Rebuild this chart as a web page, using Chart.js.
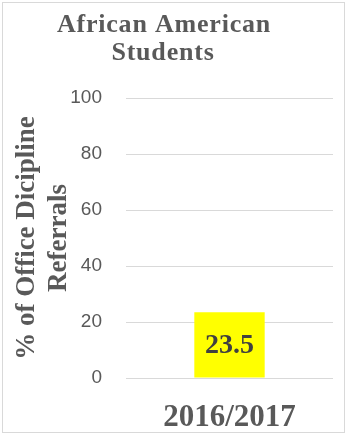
<!DOCTYPE html>
<html>
<head>
<meta charset="utf-8">
<script src="https://cdn.jsdelivr.net/npm/chart.js@4.4.1/dist/chart.umd.min.js"></script>
<style>
  html, body { margin: 0; padding: 0; background: #fff; }
  #wrap { position: relative; width: 347px; height: 435px; }
</style>
</head>
<body>
<div id="wrap"><canvas id="chart" width="347" height="435"></canvas></div>
<script>
// chart data
const categories = ['2016/2017'];
const referralPct = [23.5];
const titleLines = ['African American', 'Students'];
const yTitleLines = ['% of Office Dicipline', 'Referrals'];

const serif = "'Liberation Serif', 'Times New Roman', serif";
const grey = '#595959';

// border + title + value label
const decor = {
  id: 'decor',
  beforeDraw(chart) {
    const ctx = chart.ctx;
    ctx.save();
    ctx.strokeStyle = '#d9d9d9';
    ctx.lineWidth = 1;
    ctx.strokeRect(2.5, 2.5, 342, 430);
    ctx.restore();
  },
  afterDraw(chart) {
    const ctx = chart.ctx;
    ctx.save();
    ctx.fillStyle = grey;
    ctx.font = 'bold 26px ' + serif;
    ctx.textAlign = 'center';
    ctx.textBaseline = 'alphabetic';
    if ('letterSpacing' in ctx) ctx.letterSpacing = '0.8px';
    ctx.fillText(titleLines[0], 164, 32);
    ctx.fillText(titleLines[1], 163, 60);
    if ('letterSpacing' in ctx) ctx.letterSpacing = '0px';

    // value labels in the middle of each bar
    const meta = chart.getDatasetMeta(0);
    ctx.fillStyle = '#404040';
    ctx.font = 'bold 28px ' + serif;
    ctx.textBaseline = 'middle';
    meta.data.forEach((bar, i) => {
      const midY = (bar.y + bar.base) / 2;
      ctx.fillText(String(referralPct[i]), bar.x, midY + 1);
    });
    ctx.restore();
  }
};

new Chart(document.getElementById('chart'), {
  type: 'bar',
  data: {
    labels: categories,
    datasets: [{
      data: referralPct,
      backgroundColor: '#ffff00',
      borderWidth: 0,
      categoryPercentage: 1,
      barPercentage: 0.34
    }]
  },
  options: {
    responsive: false,
    animation: false,
    devicePixelRatio: 1,
    layout: { padding: { top: 98, right: 14, bottom: 0, left: 0 } },
    plugins: {
      legend: { display: false },
      tooltip: { enabled: false },
      title: { display: false }
    },
    scales: {
      x: {
        grid: { display: false, drawTicks: false },
        border: { display: false },
        ticks: {
          color: grey,
          padding: 21,
          font: { family: serif, size: 31, weight: 'bold' }
        },
        afterFit(scale) { scale.height = 57; }
      },
      y: {
        min: 0,
        max: 100,
        grid: { color: '#d9d9d9', lineWidth: 1, drawTicks: false },
        border: { display: false },
        ticks: {
          stepSize: 20,
          color: grey,
          padding: 24,
          font: { family: "'Liberation Sans', Arial, sans-serif", size: 19 }
        },
        title: {
          display: true,
          text: yTitleLines,
          color: grey,
          font: { family: serif, size: 27, weight: 'bold', lineHeight: 1.185 },
          padding: { top: 11, bottom: 0 }
        },
        afterFit(scale) { scale.width = 126; }
      }
    }
  },
  plugins: [decor]
});
</script>
</body>
</html>
